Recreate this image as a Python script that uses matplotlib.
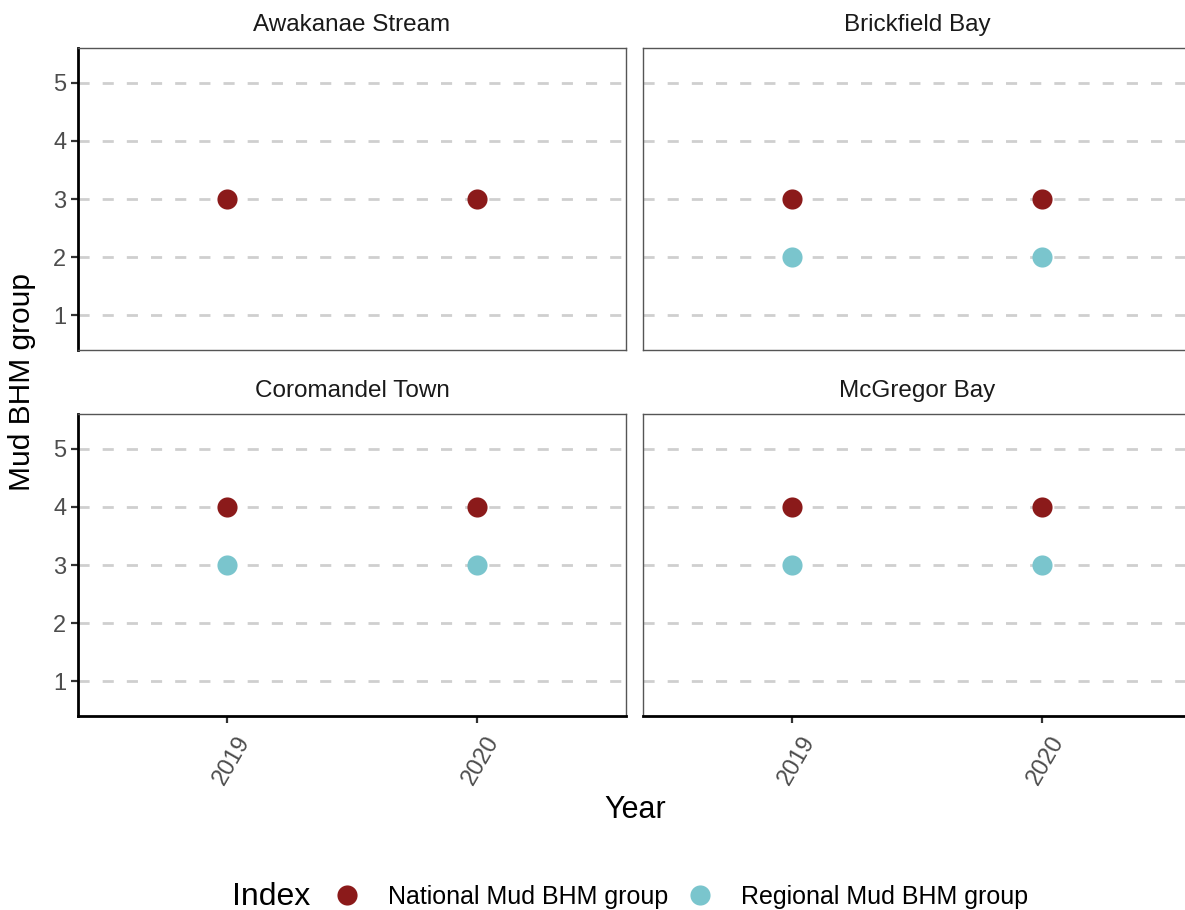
import matplotlib.pyplot as plt
import matplotlib.transforms as mtransforms
from matplotlib.lines import Line2D

plt.rcParams['font.family'] = ['Liberation Sans', 'DejaVu Sans']

sites = ['Awakanae Stream', 'Brickfield Bay', 'Coromandel Town', 'McGregor Bay']
years = ['2019', '2020']
national = {
    'Awakanae Stream': [3, 3],
    'Brickfield Bay': [3, 3],
    'Coromandel Town': [4, 4],
    'McGregor Bay': [4, 4],
}
regional = {
    'Awakanae Stream': None,
    'Brickfield Bay': [2, 2],
    'Coromandel Town': [3, 3],
    'McGregor Bay': [3, 3],
}
red = '#8B1A1A'
teal = '#7AC5CD'

W, H = 1185, 910
fig = plt.figure(figsize=(W / 100, H / 100), dpi=100)

lefts = [78, 643]
tops = [48, 414]
pw, ph = 548, 302

for i, site in enumerate(sites):
    r, c = divmod(i, 2)
    x0 = lefts[c] / W
    y0 = 1 - (tops[r] + ph) / H
    ax = fig.add_axes([x0, y0, pw / W, ph / H])
    xs = range(len(years))
    ax.set_axisbelow(True)
    ax.yaxis.grid(True, color='#CFCFCF', lw=2, linestyle=(0, (4, 4.7)))
    ax.scatter(xs, national[site], s=210, color=red, zorder=3, linewidths=0)
    if regional[site] is not None:
        ax.scatter(xs, regional[site], s=210, color=teal, zorder=3, linewidths=0)
    ax.set_xlim(-0.6, 1.6)
    ax.set_ylim(0.4, 5.6)
    ax.set_yticks([1, 2, 3, 4, 5])
    ax.set_xticks(list(xs))
    ax.set_xticklabels(years)
    for sp in ax.spines.values():
        sp.set_color('#555555')
        sp.set_linewidth(1.0)
    ax.tick_params(length=5, width=1.6, color='#333333', labelsize=17,
                   labelcolor='#4D4D4D')
    if c == 0:
        ax.spines['left'].set_color('black')
        ax.spines['left'].set_linewidth(2)
    else:
        ax.tick_params(axis='y', left=False, labelleft=False)
    if r == 1:
        ax.spines['bottom'].set_color('black')
        ax.spines['bottom'].set_linewidth(2)
        ax.tick_params(axis='x', pad=3)
        shift = mtransforms.ScaledTranslation(8 / 100, -5 / 100, fig.dpi_scale_trans)
        for lab in ax.get_xticklabels():
            lab.set_rotation(60)
            lab.set_ha('right')
            lab.set_va('top')
            lab.set_rotation_mode('anchor')
            lab.set_transform(lab.get_transform() + shift)
    else:
        ax.tick_params(axis='x', bottom=False, labelbottom=False)
    ax.text(0.5, 1 + 23 / ph, site, transform=ax.transAxes, ha='center',
            va='center', fontsize=17.5, color='#1A1A1A')

fig.text(22 / W, 1 - 382 / H, 'Mud BHM group', rotation=90, ha='center',
         va='center', fontsize=21.5)
fig.text(635 / W, 1 - 810 / H, 'Year', ha='center', va='center', fontsize=22)

fig.text(232 / W, 1 - 897 / H, 'Index', ha='left', va='center', fontsize=23)
handles = [
    Line2D([], [], marker='o', ls='', color=red, markersize=14.5, markeredgewidth=0),
    Line2D([], [], marker='o', ls='', color=teal, markersize=14.5, markeredgewidth=0),
]
fig.legend(handles, ['National Mud BHM group', 'Regional Mud BHM group'],
           loc='center left', bbox_to_anchor=(334.5 / W, 1 - 897 / H), ncol=2,
           frameon=False, fontsize=18, handlelength=1.0, handletextpad=1.14,
           columnspacing=0.78, borderpad=0, borderaxespad=0)

fig.savefig('out.png', dpi=100)
